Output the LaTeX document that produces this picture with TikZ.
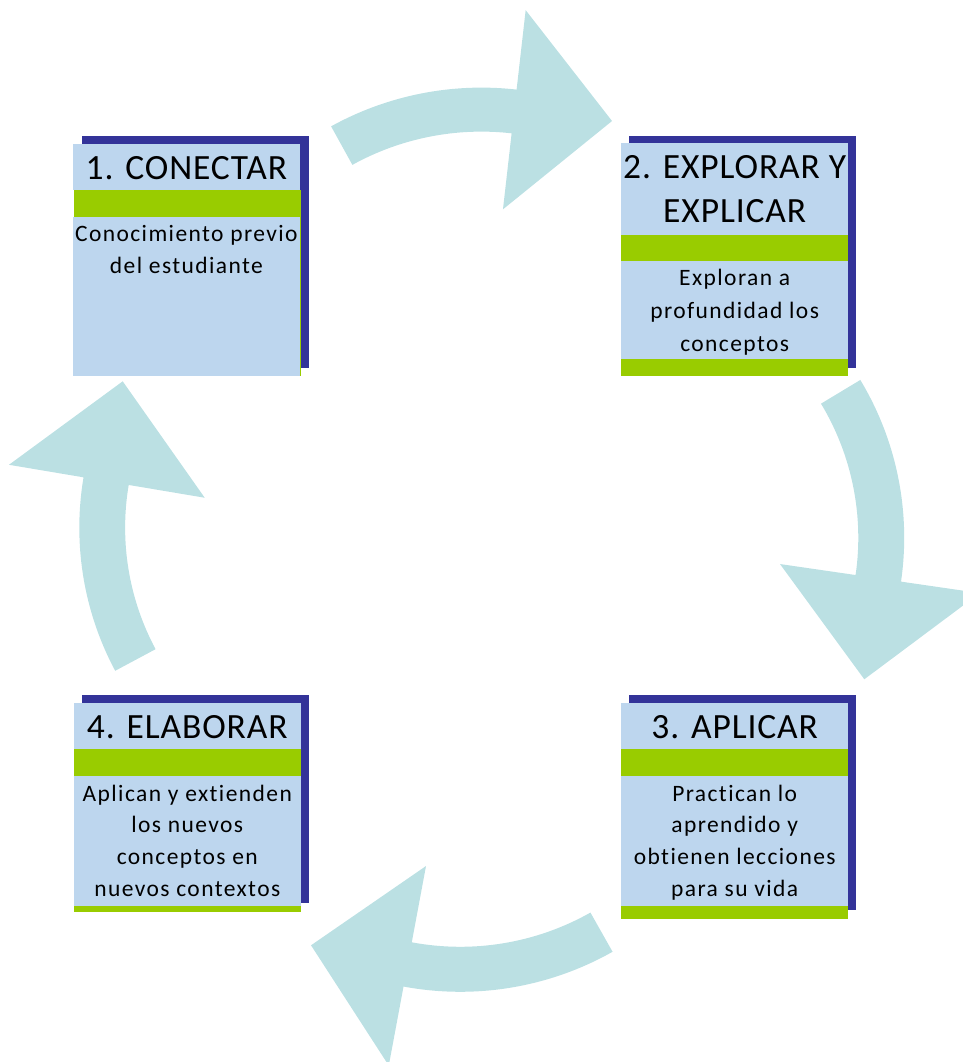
\documentclass[tikz,border=0pt]{standalone}
\usepackage{fontspec}
\setmainfont{Carlito}
\newfontfamily\headfont[LetterSpace=2.5,Ligatures=NoCommon]{Carlito}
\newfontfamily\bodyfont[LetterSpace=6,Ligatures=NoCommon]{Carlito}
\usetikzlibrary{calc}
\definecolor{boxblue}{HTML}{BDD6EE}
\definecolor{boxgreen}{HTML}{99CC00}
\definecolor{shadowblue}{HTML}{333399}
\definecolor{arrowcyan}{HTML}{BBE0E3}
\tikzset{
  arrowfill/.style={fill=arrowcyan},
  shadowfill/.style={fill=shadowblue},
  greenfill/.style={fill=boxgreen},
  bluefill/.style={fill=boxblue},
  heading/.style={inner sep=0pt, text=black, align=center,
    font=\headfont\fontsize{35.5}{44.4}\selectfont},
  bodytext/.style={inner sep=0pt, text=black, align=center, anchor=north,
    font=\bodyfont\fontsize{23.5}{31.8}\selectfont},
}
% #1 centre, #2 outer radius, #3 inner radius, #4 tail angle, #5 head-base angle,
% #6 head outer radius, #7 head inner radius, #8 tip angle, #9 tip radius
\newcommand{\blockarrow}[9]{%
  \fill[arrowfill] ($(#1)+(#4:#2)$) arc[start angle=#4, end angle=#5, radius=#2]
    -- ($(#1)+(#5:#6)$) -- ($(#1)+(#8:#9)$) -- ($(#1)+(#5:#7)$)
    -- ($(#1)+(#5:#3)$) arc[start angle=#5, end angle=#4, radius=#3] -- cycle;}
\begin{document}
\begin{tikzpicture}[x=1pt,y=-1pt]
\useasboundingbox (0,0) rectangle (963,1062);
\clip (0,0) rectangle (963,1062);

% centres of the curved arrows
\coordinate (otop) at (481.4,398.6);
\coordinate (oright) at (598.8,537.7);
\coordinate (obottom) at (460.3,682.2);
\coordinate (oleft) at (382.6,527.7);

\blockarrow{otop}{311}{267}{-118.9}{-83.5}{391}{190.5}{-64.8}{306.8}
\blockarrow{oright}{305.4}{259.5}{-31.1}{8.27}{385}{183.1}{28.07}{300.9}
\blockarrow{obottom}{309.6}{264.6}{60.54}{100.57}{390}{187}{119.57}{302.5}
\blockarrow{oleft}{303.3}{257.5}{151.85}{189.56}{378.9}{180.4}{209.39}{298.3}

% Box 1
\fill[shadowfill] (82,135.7) rectangle (309,368);
\fill[greenfill] (74,190) rectangle (301,376);
\fill[bluefill] (72.7,144) rectangle (300,190);
\fill[bluefill] (72.7,217) rectangle (300,376);
\node[heading, anchor=base] (h1) at (186.4,179.3) {1. CONECTAR};
\node[bodytext] (b1) at (186.4,219.4) {\strut Conocimiento previo\\\strut del estudiante};

% Box 2
\fill[shadowfill] (629,135.7) rectangle (855.7,367.7);
\fill[greenfill] (621,235) rectangle (848.3,375.7);
\fill[bluefill] (621,142.7) rectangle (848.3,235);
\fill[bluefill] (621,260.7) rectangle (848.3,358.7);
\node[heading, anchor=north] (h2) at (734.7,147.2) {\strut 2. EXPLORAR Y\\\strut EXPLICAR};
\node[bodytext, font=\bodyfont\fontsize{23.5}{33}\selectfont] (b2) at (734.7,262.6)
  {\strut Exploran a\\\strut profundidad los\\\strut conceptos};

% Box 3
\fill[shadowfill] (629,695) rectangle (855.7,910);
\fill[greenfill] (621,749) rectangle (848.3,918.7);
\fill[bluefill] (621,702.7) rectangle (848.3,749);
\fill[bluefill] (621,776) rectangle (848.3,905.7);
\node[heading, anchor=base] (h3) at (734.7,738.3) {3. APLICAR};
\node[bodytext] (b3) at (734.7,778.7)
  {\strut Practican lo\\\strut aprendido y\\\strut obtienen lecciones\\\strut para su vida};

% Box 4
\fill[shadowfill] (82,695) rectangle (309,903.3);
\fill[greenfill] (74,749) rectangle (300.7,911.7);
\fill[bluefill] (74,702.7) rectangle (300.7,749);
\fill[bluefill] (74,776) rectangle (300.7,905.7);
\node[heading, anchor=base] (h4) at (187.3,738.3) {4. ELABORAR};
\node[bodytext] (b4) at (187.3,778.7)
  {\strut Aplican y extienden\\\strut los nuevos\\\strut conceptos en\\\strut nuevos contextos};
\end{tikzpicture}
\end{document}
